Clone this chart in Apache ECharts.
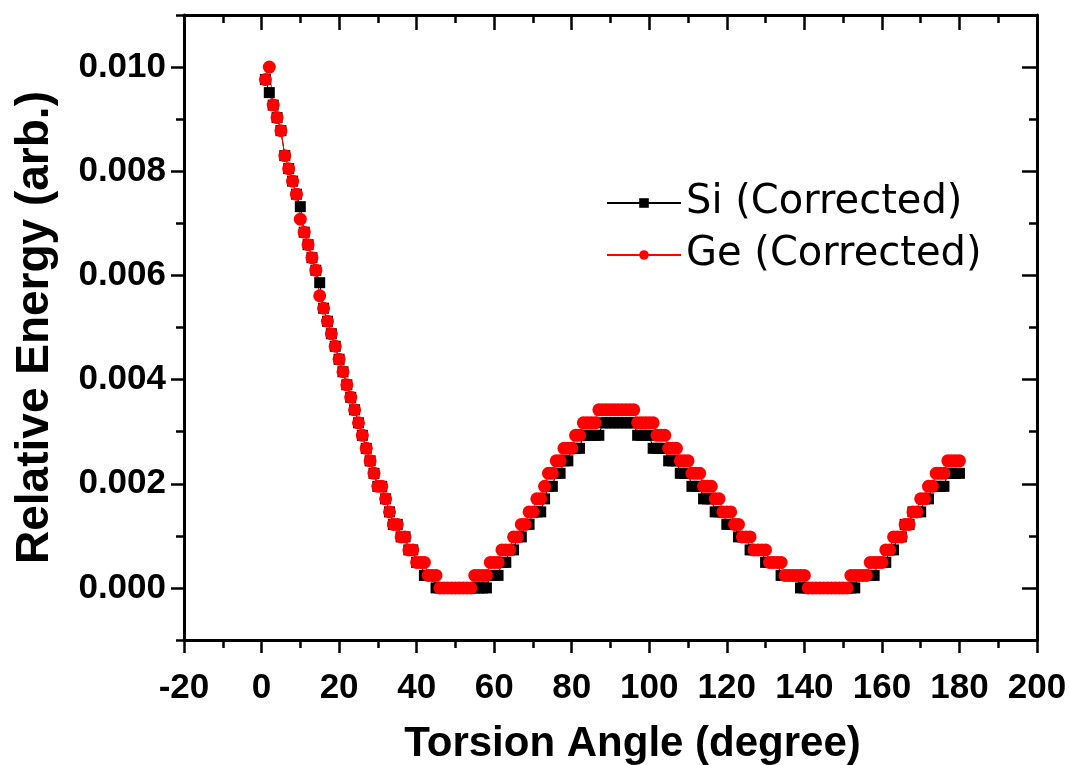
<!DOCTYPE html>
<html>
<head>
<meta charset="utf-8">
<title>Relative Energy vs Torsion Angle</title>
<script src="https://cdn.jsdelivr.net/npm/echarts@6.0.0/dist/echarts.min.js"></script>
<style>
  html, body { margin: 0; padding: 0; background: #fff; }
  #chart { width: 1069px; height: 765px; }
</style>
</head>
<body>
<div id="chart"></div>
<script>
// torsion angle, one point per degree
const angles = [
  1, 2, 3, 4, 5, 6, 7, 8, 9, 10, 11, 12, 13, 14, 15, 16, 17, 18, 19, 20,
  21, 22, 23, 24, 25, 26, 27, 28, 29, 30, 31, 32, 33, 34, 35, 36, 37, 38, 39, 40,
  41, 42, 43, 44, 45, 46, 47, 48, 49, 50, 51, 52, 53, 54, 55, 56, 57, 58, 59, 60,
  61, 62, 63, 64, 65, 66, 67, 68, 69, 70, 71, 72, 73, 74, 75, 76, 77, 78, 79, 80,
  81, 82, 83, 84, 85, 86, 87, 88, 89, 90, 91, 92, 93, 94, 95, 96, 97, 98, 99, 100,
  101, 102, 103, 104, 105, 106, 107, 108, 109, 110, 111, 112, 113, 114, 115, 116, 117, 118, 119, 120,
  121, 122, 123, 124, 125, 126, 127, 128, 129, 130, 131, 132, 133, 134, 135, 136, 137, 138, 139, 140,
  141, 142, 143, 144, 145, 146, 147, 148, 149, 150, 151, 152, 153, 154, 155, 156, 157, 158, 159, 160,
  161, 162, 163, 164, 165, 166, 167, 168, 169, 170, 171, 172, 173, 174, 175, 176, 177, 178, 179, 180
]

const siEnergy = [
  0.00976, 0.00951, 0.00927, 0.00903, 0.00878, 0.0083, 0.00805, 0.00781, 0.00756, 0.00732,
  0.00683, 0.00659, 0.00634, 0.0061, 0.00586, 0.00537, 0.00512, 0.00488, 0.00464, 0.00439,
  0.00415, 0.0039, 0.00366, 0.00342, 0.00317, 0.00293, 0.00268, 0.00244, 0.0022, 0.00195,
  0.00195, 0.00171, 0.00146, 0.00122, 0.00122, 0.00098, 0.00098, 0.00073, 0.00073, 0.00049,
  0.00049, 0.00024, 0.00024, 0.00024, 0, 0, 0, 0, 0, 0,
  0, 0, 0, 0, 0, 0, 0, 0, 0.00024, 0.00024,
  0.00024, 0.00049, 0.00049, 0.00073, 0.00073, 0.00098, 0.00098, 0.00122, 0.00122, 0.00146,
  0.00146, 0.00146, 0.00171, 0.00195, 0.00195, 0.0022, 0.0022, 0.00244, 0.00244, 0.00268,
  0.00268, 0.00268, 0.00293, 0.00293, 0.00293, 0.00293, 0.00293, 0.00317, 0.00317, 0.00317,
  0.00317, 0.00317, 0.00317, 0.00317, 0.00317, 0.00317, 0.00293, 0.00293, 0.00293, 0.00293,
  0.00268, 0.00268, 0.00268, 0.00268, 0.00244, 0.00244, 0.00244, 0.0022, 0.0022, 0.0022,
  0.00195, 0.00195, 0.00195, 0.00171, 0.00171, 0.00171, 0.00146, 0.00146, 0.00146, 0.00122,
  0.00122, 0.00122, 0.00098, 0.00098, 0.00098, 0.00073, 0.00073, 0.00073, 0.00073, 0.00049,
  0.00049, 0.00049, 0.00049, 0.00024, 0.00024, 0.00024, 0.00024, 0.00024, 0, 0,
  0, 0, 0, 0, 0, 0, 0, 0, 0, 0,
  0, 0, 0, 0.00024, 0.00024, 0.00024, 0.00024, 0.00024, 0.00049, 0.00049,
  0.00049, 0.00073, 0.00073, 0.00098, 0.00098, 0.00122, 0.00122, 0.00146, 0.00146, 0.00146,
  0.00171, 0.00171, 0.00195, 0.00195, 0.00195, 0.00195, 0.0022, 0.0022, 0.0022, 0.0022
]

const geEnergy = [
  0.00976, 0.01, 0.00927, 0.00903, 0.00878, 0.0083, 0.00805, 0.00781, 0.00756, 0.00708,
  0.00683, 0.00659, 0.00634, 0.0061, 0.00561, 0.00537, 0.00512, 0.00488, 0.00464, 0.00439,
  0.00415, 0.0039, 0.00366, 0.00342, 0.00317, 0.00293, 0.00268, 0.00244, 0.0022, 0.00195,
  0.00195, 0.00171, 0.00146, 0.00122, 0.00122, 0.00098, 0.00098, 0.00073, 0.00073, 0.00049,
  0.00049, 0.00049, 0.00024, 0.00024, 0.00024, 0, 0, 0, 0, 0,
  0, 0, 0, 0, 0.00024, 0.00024, 0.00024, 0.00024, 0.00049, 0.00049,
  0.00049, 0.00073, 0.00073, 0.00073, 0.00098, 0.00098, 0.00122, 0.00122, 0.00146, 0.00146,
  0.00171, 0.00171, 0.00195, 0.0022, 0.0022, 0.00244, 0.00244, 0.00268, 0.00268, 0.00268,
  0.00293, 0.00293, 0.00317, 0.00317, 0.00317, 0.00317, 0.00342, 0.00342, 0.00342, 0.00342,
  0.00342, 0.00342, 0.00342, 0.00342, 0.00342, 0.00342, 0.00317, 0.00317, 0.00317, 0.00317,
  0.00317, 0.00293, 0.00293, 0.00293, 0.00268, 0.00268, 0.00268, 0.00244, 0.00244, 0.00244,
  0.0022, 0.0022, 0.0022, 0.00195, 0.00195, 0.00195, 0.00171, 0.00171, 0.00146, 0.00146,
  0.00146, 0.00122, 0.00122, 0.00098, 0.00098, 0.00098, 0.00073, 0.00073, 0.00073, 0.00073,
  0.00049, 0.00049, 0.00049, 0.00049, 0.00024, 0.00024, 0.00024, 0.00024, 0.00024, 0.00024,
  0, 0, 0, 0, 0, 0, 0, 0, 0, 0,
  0, 0.00024, 0.00024, 0.00024, 0.00024, 0.00024, 0.00049, 0.00049, 0.00049, 0.00049,
  0.00073, 0.00073, 0.00098, 0.00098, 0.00098, 0.00122, 0.00122, 0.00146, 0.00146, 0.00171,
  0.00171, 0.00195, 0.00195, 0.0022, 0.0022, 0.0022, 0.00244, 0.00244, 0.00244, 0.00244
]

const seriesNames = ['Si (Corrected)', 'Ge (Corrected)']
const yMajorTicks = [0, 0.002, 0.004, 0.006, 0.008, 0.010]

const FONT = '"Liberation Sans", Arial, sans-serif'
const axisLineStyle = { color: '#000', width: 3 }
const tickLineStyle = { color: '#000', width: 2.5 }

const xBase = {
  type: 'value',
  min: -20,
  max: 200,
  interval: 20,
  splitLine: { show: false },
  axisLine: { show: true, onZero: false, lineStyle: axisLineStyle },
}
const yBase = {
  type: 'value',
  min: -0.001,
  max: 0.011,
  interval: 0.001,
  splitLine: { show: false },
  axisLine: { show: false, onZero: false },
  axisLabel: { show: false },
}

const chart = echarts.init(document.getElementById('chart'))
chart.setOption({
  animation: false,
  backgroundColor: '#fff',
  grid: { left: 184, right: 32, top: 15, bottom: 125, outerBoundsMode: 'none' },
  legend: {
    orient: 'vertical',
    left: 601,
    top: 178,
    itemWidth: 74,
    itemHeight: 12,
    itemGap: 12,
    textStyle: { fontSize: 40, fontFamily: '"DejaVu Sans", sans-serif', color: '#000' },
    data: seriesNames,
  },
  xAxis: [
    {
      ...xBase,
      position: 'bottom',
      name: 'Torsion Angle (degree)',
      nameLocation: 'middle',
      nameGap: 83,
      nameTextStyle: {
        fontSize: 42, fontWeight: 'bold', fontFamily: FONT, color: '#000',
        padding: [0, 0, 0, 44],
      },
      axisTick: { show: true, length: 13, lineStyle: tickLineStyle },
      minorTick: { show: true, splitNumber: 2, length: 8, lineStyle: tickLineStyle },
      axisLabel: {
        fontSize: 35, fontWeight: 'bold', color: '#000', margin: 31,
        fontFamily: '"Liberation Sans Narrow", "Arial Narrow", ' + FONT,
      },
    },
    {
      ...xBase,
      position: 'top',
      axisTick: { show: true, inside: true, length: 15, lineStyle: tickLineStyle },
      minorTick: { show: true, splitNumber: 2, length: 8, lineStyle: tickLineStyle },
      axisLabel: { show: false },
    },
  ],
  yAxis: [
    {
      ...yBase,
      position: 'left',
      axisLine: { show: true, onZero: false, lineStyle: axisLineStyle },
      axisTick: { show: true, length: 8, lineStyle: tickLineStyle },
      axisLabel: {
        show: true,
        customValues: yMajorTicks,
        formatter: (v) => v.toFixed(3),
        fontSize: 35, fontWeight: 'bold', fontFamily: FONT, color: '#000', margin: 18,
      },
      name: 'Relative Energy (arb.)',
      nameLocation: 'middle',
      nameGap: 126,
      nameTextStyle: { fontSize: 46, fontWeight: 'bold', fontFamily: FONT, color: '#000' },
    },
    {
      ...yBase,
      position: 'left',
      axisTick: { show: true, length: 13, customValues: yMajorTicks, lineStyle: tickLineStyle },
    },
    {
      ...yBase,
      position: 'right',
      axisLine: { show: true, onZero: false, lineStyle: axisLineStyle },
      axisTick: { show: true, inside: true, length: 8, lineStyle: tickLineStyle },
    },
    {
      ...yBase,
      position: 'right',
      axisTick: { show: true, inside: true, length: 15, customValues: yMajorTicks, lineStyle: tickLineStyle },
    },
  ],
  series: [
    {
      name: seriesNames[0],
      type: 'line',
      data: angles.map((a, i) => [a, siEnergy[i]]),
      symbol: 'rect',
      symbolSize: 11,
      showAllSymbol: true,
      itemStyle: { color: '#000' },
      lineStyle: { color: '#000', width: 1 },
    },
    {
      name: seriesNames[1],
      type: 'line',
      data: angles.map((a, i) => [a, geEnergy[i]]),
      symbol: 'circle',
      symbolSize: 13,
      showAllSymbol: true,
      itemStyle: { color: '#ff0000' },
      lineStyle: { color: '#ff0000', width: 1 },
    },
  ],
})
</script>
</body>
</html>
